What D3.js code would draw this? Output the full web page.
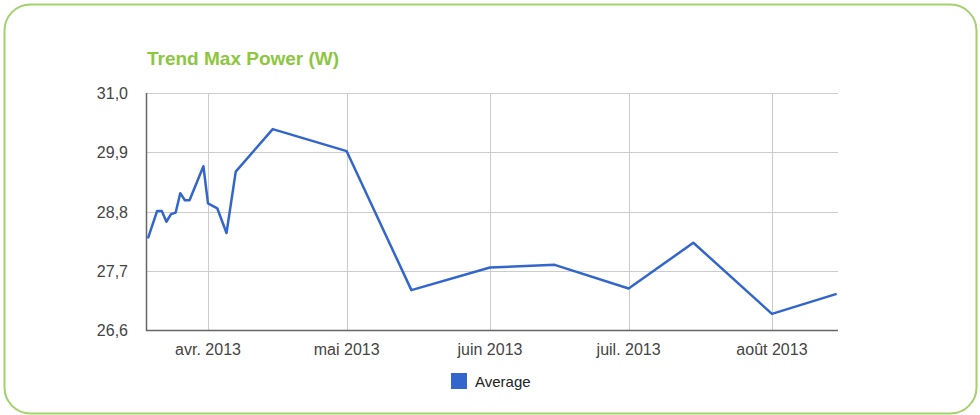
<!DOCTYPE html>
<html>
<head>
<meta charset="utf-8">
<script src="https://cdn.jsdelivr.net/npm/d3@7"></script>
<style>
  body { margin: 0; background: #fff; }
  svg { display: block; font-family: Arial, "Liberation Sans", sans-serif; }
</style>
</head>
<body>
<div class="result"></div>
<script>
const w = 980;
const h = 415;

// data
const dates = ['2013-03-19', '2013-03-21', '2013-03-22', '2013-03-23', '2013-03-24',
  '2013-03-25', '2013-03-26', '2013-03-27', '2013-03-28', '2013-03-31', '2013-04-01',
  '2013-04-03', '2013-04-05', '2013-04-07', '2013-04-15', '2013-05-01', '2013-05-15',
  '2013-06-01', '2013-06-15', '2013-07-01', '2013-07-15', '2013-08-01', '2013-08-15'];
const average = [28.30, 28.81, 28.81, 28.61, 28.75, 28.78, 29.14, 29.01, 29.01, 29.64, 28.95,
  28.86, 28.40, 29.54, 30.33, 29.92, 27.34, 27.76, 27.81, 27.37, 28.22, 26.90, 27.27];
const xDomain = ['2013-03-18 14:00', '2013-08-15 07:00'];
const yTicks = [26.6, 27.7, 28.8, 29.9, 31.0];
const xTicks = ['2013-04-01', '2013-05-01', '2013-06-01', '2013-07-01', '2013-08-01'];
const xTickLabels = ['avr. 2013', 'mai 2013', 'juin 2013', 'juil. 2013', 'août 2013'];

const parse = d3.timeParse('%Y-%m-%d');
const parseHour = d3.timeParse('%Y-%m-%d %H:%M');
const data = dates.map((d, i) => ({ date: parse(d), value: average[i] }));

const plotL = 146, plotR = 838, plotT = 93, plotB = 330;

const x = d3.scaleTime()
  .domain(xDomain.map(parseHour))
  .range([plotL, plotR]);

const y = d3.scaleLinear()
  .domain([26.6, 31.0])
  .range([plotB, plotT]);

const svg = d3.select('.result')
  .append('svg')
  .attr('width', w)
  .attr('height', h);

// green rounded frame
svg.append('rect')
  .attr('x', 4.5)
  .attr('y', 4.5)
  .attr('width', 972)
  .attr('height', 409)
  .attr('rx', 26)
  .attr('fill', '#fff')
  .attr('stroke', '#a3d16b')
  .attr('stroke-width', 2);

// title
svg.append('text')
  .attr('x', plotL + 1)
  .attr('y', 65)
  .attr('fill', '#8dc63f')
  .attr('font-size', 19)
  .attr('font-weight', 'bold')
  .text('Trend Max Power (W)');

// horizontal gridlines
svg.append('g')
  .selectAll('line')
  .data(yTicks)
  .enter()
  .append('line')
  .attr('x1', plotL)
  .attr('x2', plotR)
  .attr('y1', d => Math.round(y(d)) + 0.5)
  .attr('y2', d => Math.round(y(d)) + 0.5)
  .attr('stroke', '#cccccc');

// vertical gridlines
svg.append('g')
  .selectAll('line')
  .data(xTicks)
  .enter()
  .append('line')
  .attr('x1', d => Math.round(x(parse(d))) + 0.5)
  .attr('x2', d => Math.round(x(parse(d))) + 0.5)
  .attr('y1', plotT)
  .attr('y2', plotB)
  .attr('stroke', '#cccccc');

// y labels
svg.append('g')
  .selectAll('text')
  .data(yTicks)
  .enter()
  .append('text')
  .attr('x', 128)
  .attr('y', d => y(d) + 6)
  .attr('text-anchor', 'end')
  .attr('fill', '#444')
  .attr('font-size', 16)
  .text(d => d3.format('.1f')(d).replace('.', ','));

// x labels
svg.append('g')
  .selectAll('text')
  .data(xTicks)
  .enter()
  .append('text')
  .attr('x', d => x(parse(d)))
  .attr('y', 355)
  .attr('text-anchor', 'middle')
  .attr('fill', '#444')
  .attr('font-size', 16)
  .text((d, i) => xTickLabels[i]);

// axis baselines
svg.append('path')
  .attr('d', `M${plotL + 0.5},${plotT}V${plotB + 0.5}H${plotR}`)
  .attr('fill', 'none')
  .attr('stroke', '#666')
  .attr('stroke-width', 1.5);

// line
const line = d3.line()
  .x(d => x(d.date))
  .y(d => y(d.value));

svg.append('path')
  .datum(data)
  .attr('d', line)
  .attr('fill', 'none')
  .attr('stroke', '#3366cc')
  .attr('stroke-width', 2.5)
  .attr('stroke-linejoin', 'round');

// legend
svg.append('rect')
  .attr('x', 451)
  .attr('y', 373)
  .attr('width', 16)
  .attr('height', 16)
  .attr('fill', '#3366cc');

svg.append('text')
  .attr('x', 475)
  .attr('y', 387)
  .attr('fill', '#222')
  .attr('font-size', 15)
  .text('Average');
</script>
</body>
</html>
